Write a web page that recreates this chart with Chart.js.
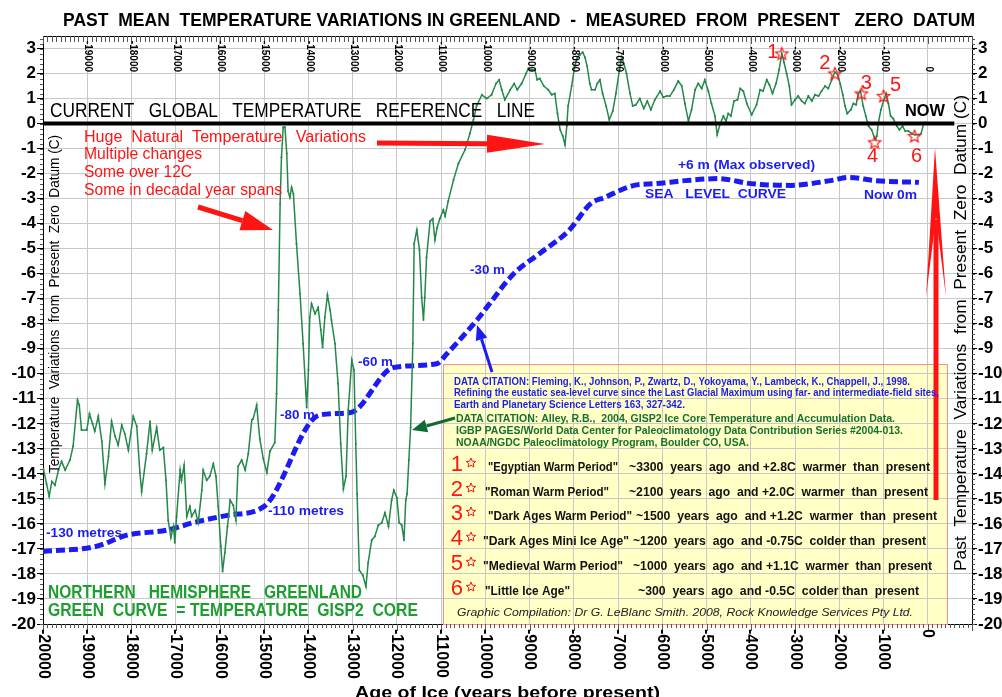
<!DOCTYPE html>
<html>
<head>
<meta charset="utf-8">
<script src="https://cdn.jsdelivr.net/npm/chart.js@4.4.1/dist/chart.umd.min.js"></script>
<style>
  html, body { margin: 0; padding: 0; background: #fff; }
  #wrap { width: 1002px; height: 697px; }
</style>
</head>
<body>
<div id="wrap"><canvas id="greenland" width="1002" height="697"></canvas></div>
<script>
// GISP2 temperature (years before present, deg C from present)
const tempYears = [
  -19990, -19920, -19860, -19800, -19730, -19650, -19580, -19500, -19390, -19320,
  -19220, -19180, -19130, -19010, -18950, -18880, -18830, -18750, -18670, -18600,
  -18520, -18450, -18370, -18300, -18220, -18150, -18070, -17960, -17880, -17810,
  -17770, -17660, -17580, -17530, -17430, -17360, -17280, -17220, -17170, -17110,
  -17050, -17020, -16980, -16900, -16870, -16810, -16750, -16680, -16640, -16560,
  -16490, -16410, -16380, -16300, -16230, -16150, -16090, -16040, -15980, -15940,
  -15890, -15830, -15770, -15700, -15640, -15590, -15510, -15430, -15360, -15280,
  -15250, -15170, -15100, -15020, -14940, -14870, -14760, -14720, -14680, -14640,
  -14610, -14570, -14530, -14490, -14460, -14420, -14380, -14340, -14270, -14190,
  -14120, -14040, -14000, -13970, -13930, -13850, -13780, -13720, -13680, -13630,
  -13570, -13510, -13480, -13400, -13330, -13270, -13210, -13150, -13100, -13020,
  -12970, -12930, -12900, -12850, -12770, -12700, -12650, -12570, -12500, -12420,
  -12340, -12270, -12190, -12120, -12070, -12000, -11950, -11890, -11840, -11800,
  -11770, -11730, -11690, -11640, -11610, -11550, -11490, -11440, -11400, -11370,
  -11330, -11250, -11190, -11140, -11090, -11030, -10950, -10910, -10840, -10720,
  -10610, -10460, -10350, -10270, -10200, -10080, -9970, -9860, -9760, -9690,
  -9630, -9560, -9440, -9350, -9280, -9180, -9080, -9030, -8950, -8880,
  -8830, -8770, -8680, -8580, -8500, -8430, -8370, -8310, -8250, -8200,
  -8160, -8130, -8050, -7980, -7920, -7860, -7800, -7750, -7700, -7640,
  -7600, -7520, -7470, -7410, -7350, -7270, -7200, -7120, -7050, -6970,
  -6920, -6870, -6810, -6730, -6670, -6600, -6510, -6420, -6340, -6260,
  -6170, -6050, -5980, -5900, -5830, -5740, -5640, -5560, -5490, -5410,
  -5340, -5260, -5190, -5110, -5040, -4960, -4890, -4810, -4760, -4700,
  -4620, -4560, -4510, -4450, -4380, -4300, -4240, -4170, -4090, -3980,
  -3870, -3790, -3720, -3640, -3580, -3510, -3430, -3360, -3300, -3250,
  -3190, -3130, -3080, -3000, -2930, -2850, -2780, -2700, -2620, -2550,
  -2470, -2400, -2320, -2250, -2170, -2100, -2050, -1980, -1920, -1870,
  -1820, -1740, -1680, -1620, -1570, -1520, -1460, -1400, -1340, -1270,
  -1190, -1150, -1120, -1060, -1000, -940, -890, -840, -780, -700,
  -640, -570, -510, -440, -360, -290, -210, -150, -100, -60
];
const tempValues = [
  -13.8, -14.4, -14.9, -14.3, -14.45, -13.85, -13.5, -13.85, -13.45, -12.9,
  -11.05, -11.25, -12.25, -12.25, -11.6, -12.0, -12.3, -11.7, -12.7, -14.4,
  -13.3, -11.9, -12.5, -12.85, -12.05, -12.4, -13.05, -11.7, -12.1, -13.95,
  -14.7, -13.2, -11.9, -13.05, -12.15, -13.05, -12.95, -14.25, -15.85, -16.55,
  -16.1, -16.75, -15.7, -13.85, -14.25, -13.65, -15.7, -15.3, -15.7, -15.45,
  -15.95, -14.65, -13.85, -14.25, -14.1, -13.6, -14.1, -15.3, -16.9, -17.9,
  -17.15, -16.1, -15.05, -15.25, -15.85, -13.7, -13.45, -13.85, -13.2, -11.85,
  -11.8, -11.25, -12.6, -13.4, -13.95, -13.1, -12.75, -10.8, -7.45, -3.2,
  -1.35, -0.15, -0.15, -1.2, -2.7, -2.95, -2.55, -2.8, -4.8, -6.8,
  -8.8, -11.35, -9.85, -7.75, -7.2, -7.6, -7.35, -8.25, -8.95, -7.75,
  -6.85, -7.45, -7.85, -8.8, -10.4, -12.8, -14.6, -14.1, -11.45, -9.45,
  -9.85, -12.8, -14.8, -17.85, -18.05, -18.5, -17.55, -16.65, -16.5, -16.05,
  -15.95, -15.55, -16.1, -15.05, -14.65, -14.95, -15.95, -16.05, -16.65, -15.05,
  -14.8, -13.45, -12.15, -8.8, -4.8, -4.25, -5.05, -6.95, -7.85, -6.95,
  -5.35, -3.9, -3.8, -4.65, -4.15, -3.8, -3.45, -3.7, -3.1, -2.25,
  -1.6, -1.05, -0.4, 0.15, 0.7, 1.15, 1.0, 1.15, 1.6, 1.75,
  1.35, 0.95, 1.35, 1.6, 1.35, 1.6, 2.0, 2.2, 2.15, 2.15,
  1.75, 1.8, 1.5, 1.35, 1.15, 1.2, 0.4, -0.25, -0.5, -0.85,
  -0.1, 0.7, 1.5, 2.3, 2.65, 2.75, 2.85, 2.65, 2.3, 1.6,
  1.35, 1.35, 1.6, 1.75, 1.2, 0.7, 0.15, 0.5, 1.2, 2.15,
  2.65, 2.4, 2.0, 1.2, 0.7, 0.75, 1.0, 0.6, 0.9, 0.55,
  0.95, 1.3, 1.05, 1.1, 1.1, 1.35, 1.7, 1.5, 0.8, 0.1,
  0.55, 1.35, 1.6, 1.4, 1.75, 1.3, 0.8, 0.3, -0.45, -0.05,
  0.3, 0.1, 0.4, 0.3, 0.9, 0.95, 1.4, 1.3, 0.8, 0.35,
  0.75, 1.35, 1.3, 1.75, 1.55, 1.2, 1.6, 2.15, 2.8, 2.45,
  2.0, 1.5, 0.75, 0.95, 1.1, 0.9, 0.8, 1.1, 0.9, 1.15,
  1.1, 1.3, 1.5, 1.4, 1.75, 2.05, 2.0, 1.6, 1.15, 0.7,
  0.4, 0.55, 0.8, 0.75, 1.2, 1.3, 0.7, 0.3, -0.1, -0.25,
  -0.65, -0.5, 0.0, 0.55, 0.9, 1.2, 0.8, 0.3, 0.2, -0.1,
  -0.25, -0.1, -0.3, -0.3, -0.4, -0.45, -0.45, -0.4, -0.05, 0.05
];

// sea level curve, drawn on the temperature scale like the original
const seaYears = [
  -20000, -18800, -18100, -17200, -16600, -15800, -15000, -13750, -13050, -12080,
  -11100, -10870, -10190, -9360, -8780, -8110, -7620, -7300, -6640, -6150,
  -5480, -4740, -4000, -3100, -2200, -1770, -1200, -200
];
const seaValues = [
  -17.1, -16.9, -16.45, -16.25, -15.95, -15.65, -15.3, -11.65, -11.55, -9.75,
  -9.6, -9.2, -7.85, -6.0, -5.2, -4.27, -3.2, -2.95, -2.47, -2.4,
  -2.28, -2.2, -2.4, -2.47, -2.28, -2.15, -2.28, -2.35
];

const refYears = [-20000, 600];
const refValues = [0, 0];

// numbered warm / cold periods
const starYears = [-3300, -2100, -1500, -1200, -1000, -300];
const starValues = [2.8, 2.0, 1.2, -0.75, 1.1, -0.5];
const starLabels = ['1', '2', '3', '4', '5', '6'];
const periodNames = [
  '"Egyptian Warm Period"', '"Roman Warm Period"', '"Dark Ages Warm Period"',
  '"Dark Ages Mini Ice Age"', '"Medieval Warm Period"', '"Little Ice Age"'
];
const periodNotes = [
  '~3300  years  ago  and +2.8C  warmer  than  present',
  '~2100  years  ago  and +2.0C  warmer  than  present',
  '~1500  years  ago  and +1.2C  warmer  than  present',
  '~1200  years  ago  and -0.75C  colder than  present',
  '~1000  years  ago  and +1.1C  warmer  than  present',
  '~300  years  ago  and -0.5C  colder than  present'
];

const topTickLabels = [-19000, -18000, -17000, -16000, -15000, -14000, -13000, -12000, -11000, -10000,
  -9000, -8000, -7000, -6000, -5000, -4000, -3000, -2000, -1000, 0];
const bottomTickLabels = [-20000, -19000, -18000, -17000, -16000, -15000, -14000, -13000, -12000, -11000,
  -10000, -9000, -8000, -7000, -6000, -5000, -4000, -3000, -2000, -1000, 0];

const FONT = '"Liberation Sans", Arial, sans-serif';
const RED = '#ff1414';
const BLUE = '#1c1cf0';

function toPoints(xs, ys) {
  return xs.map((x, i) => ({ x: x, y: ys[i] }));
}

function starPath(ctx, cx, cy, r) {
  ctx.beginPath();
  for (let i = 0; i < 10; i++) {
    const rr = i % 2 === 0 ? r : r * 0.45;
    const a = -Math.PI / 2 + i * Math.PI / 5;
    const px = cx + rr * Math.cos(a);
    const py = cy + rr * Math.sin(a);
    if (i === 0) ctx.moveTo(px, py); else ctx.lineTo(px, py);
  }
  ctx.closePath();
}

// small hollow star used as point style
const starImg = document.createElement('canvas');
starImg.width = 16;
starImg.height = 16;
(function () {
  const c = starImg.getContext('2d');
  c.strokeStyle = RED;
  c.lineWidth = 1.2;
  starPath(c, 8, 8.5, 6.5);
  c.stroke();
})();

// text squeezed / stretched to a width, like the original lettering
function fitText(ctx, text, x, y, w) {
  const m = ctx.measureText(text).width;
  ctx.save();
  ctx.translate(x, y);
  ctx.scale(w / m, 1);
  ctx.textAlign = 'left';
  ctx.fillText(text, 0, 0);
  ctx.restore();
}

function fitTextUp(ctx, text, cx, yBottom, len) {
  const m = ctx.measureText(text).width;
  ctx.save();
  ctx.translate(cx, yBottom);
  ctx.rotate(-Math.PI / 2);
  ctx.scale(len / m, 1);
  ctx.textAlign = 'left';
  ctx.textBaseline = 'middle';
  ctx.fillText(text, 0, 0);
  ctx.restore();
}

function arrow(ctx, x1, y1, x2, y2, color, width, headLen, headWidth) {
  const a = Math.atan2(y2 - y1, x2 - x1);
  const bx = x2 - headLen * Math.cos(a);
  const by = y2 - headLen * Math.sin(a);
  ctx.save();
  ctx.strokeStyle = color;
  ctx.fillStyle = color;
  ctx.lineWidth = width;
  ctx.beginPath();
  ctx.moveTo(x1, y1);
  ctx.lineTo(bx, by);
  ctx.stroke();
  ctx.beginPath();
  ctx.moveTo(x2, y2);
  ctx.lineTo(bx + headWidth / 2 * Math.sin(a), by - headWidth / 2 * Math.cos(a));
  ctx.lineTo(bx - headWidth / 2 * Math.sin(a), by + headWidth / 2 * Math.cos(a));
  ctx.closePath();
  ctx.fill();
  ctx.restore();
}

const box = { left: 443, right: 947, top: 364 };

const decorations = {
  id: 'decorations',
  beforeDraw(chart) {
    const ctx = chart.ctx;
    ctx.save();
    ctx.fillStyle = '#fff';
    ctx.fillRect(0, 0, chart.width, chart.height);
    ctx.fillStyle = '#ffffc6';
    ctx.fillRect(box.left, box.top, box.right - box.left, chart.chartArea.bottom - box.top);
    ctx.restore();
  },
  afterDatasetsDraw(chart) {
    const ctx = chart.ctx;
    const area = chart.chartArea;
    ctx.save();
    ctx.strokeStyle = '#ff8c8c';
    ctx.lineWidth = 1;
    ctx.strokeRect(box.left + 0.5, box.top + 0.5, box.right - box.left, area.bottom - box.top);
    ctx.restore();
  },
  afterDraw(chart) {
    const ctx = chart.ctx;
    const area = chart.chartArea;
    const xs = chart.scales.x;
    const ys = chart.scales.y;
    ctx.save();

    // top border + ruler ticks
    ctx.strokeStyle = '#000';
    ctx.lineWidth = 1;
    ctx.beginPath();
    ctx.moveTo(area.left, area.top + 0.5);
    ctx.lineTo(area.right, area.top + 0.5);
    ctx.stroke();
    ctx.strokeStyle = '#555';
    ctx.beginPath();
    for (let v = -20000; v <= 1000; v += 100) {
      const px = Math.round(xs.getPixelForValue(v)) + 0.5;
      const big = v % 1000 === 0;
      ctx.moveTo(px, area.top);
      ctx.lineTo(px, area.top + (big ? 8 : 6));
      ctx.moveTo(px, area.bottom);
      ctx.lineTo(px, area.bottom + (big ? 7 : 4));
    }
    // minor ticks on both temperature axes
    for (let v = -20; v <= 3.4; v += 0.2) {
      const py = Math.round(ys.getPixelForValue(v)) + 0.5;
      ctx.moveTo(area.left - 3, py);
      ctx.lineTo(area.left, py);
      ctx.moveTo(area.right, py);
      ctx.lineTo(area.right + 3, py);
    }
    ctx.stroke();

    // tick labels, turned a quarter clockwise
    ctx.fillStyle = '#000';
    ctx.textBaseline = 'middle';
    ctx.font = 'bold 10px ' + FONT;
    topTickLabels.forEach(v => {
      ctx.save();
      ctx.translate(xs.getPixelForValue(v) + 1, 72);
      ctx.rotate(Math.PI / 2);
      ctx.textAlign = 'right';
      ctx.fillText(String(v), 0, 0);
      ctx.restore();
    });
    ctx.font = 'bold 16px ' + FONT;
    bottomTickLabels.forEach(v => {
      ctx.save();
      ctx.translate(xs.getPixelForValue(v), area.bottom + 5);
      ctx.rotate(Math.PI / 2);
      ctx.textAlign = 'left';
      ctx.fillText(String(v), 0, 0);
      ctx.restore();
    });

    // title and axis titles
    ctx.font = 'bold 18px ' + FONT;
    fitText(ctx, 'PAST  MEAN  TEMPERATURE VARIATIONS IN GREENLAND  -  MEASURED  FROM  PRESENT   ZERO  DATUM', 63, 21, 912);
    ctx.font = 'bold 17px ' + FONT;
    ctx.textBaseline = 'alphabetic';
    fitText(ctx, 'Age of Ice (years before present)', 355, 698, 305);
    ctx.textBaseline = 'middle';
    ctx.font = '14px ' + FONT;
    fitTextUp(ctx, 'Temperature  Variations  from  Present  Zero  Datum (C)', 55, 473, 338);
    ctx.font = '17px ' + FONT;
    fitTextUp(ctx, 'Past  Temperature  Variations  from  Present  Zero  Datum (C)', 961, 571, 476);

    // reference line caption
    ctx.font = '20px ' + FONT;
    fitText(ctx, 'CURRENT   GLOBAL   TEMPERATURE   REFERENCE   LINE', 50, 111, 485);
    ctx.font = 'bold 16px ' + FONT;
    fitText(ctx, 'NOW', 905, 112, 40);

    // red notes and arrows
    ctx.fillStyle = RED;
    ctx.font = '16px ' + FONT;
    fitText(ctx, 'Huge  Natural  Temperature   Variations', 84, 138, 282);
    fitText(ctx, 'Multiple changes', 84, 155, 118);
    fitText(ctx, 'Some over 12C', 84, 173, 108);
    fitText(ctx, 'Some in decadal year spans', 84, 191, 198);
    arrow(ctx, 377, 143, 545, 144, RED, 5, 58, 18);
    arrow(ctx, 198, 207, 273, 230, RED, 5, 32, 20);
    ctx.strokeStyle = RED;
    ctx.lineWidth = 5;
    ctx.beginPath();
    ctx.moveTo(936, 500);
    ctx.lineTo(936, 220);
    ctx.stroke();
    ctx.beginPath();
    ctx.moveTo(935, 148);
    ctx.lineTo(946, 297);
    ctx.lineTo(936, 217);
    ctx.lineTo(926, 297);
    ctx.closePath();
    ctx.fill();

    // star numbers along the curve
    const starMeta = chart.getDatasetMeta(0).data;
    const offs = [[-9, -1], [-10, -10], [5, -10], [-2, 14], [12, -11], [2, 20]];
    ctx.font = '20px ' + FONT;
    ctx.textAlign = 'center';
    starMeta.forEach((pt, i) => {
      ctx.fillText(starLabels[i], pt.x + offs[i][0], pt.y + offs[i][1]);
    });
    ctx.textAlign = 'left';

    // sea level captions
    ctx.fillStyle = BLUE;
    ctx.font = 'bold 13px ' + FONT;
    fitText(ctx, '+6 m (Max observed)', 678, 165, 137);
    fitText(ctx, 'SEA   LEVEL  CURVE', 645, 194, 141);
    fitText(ctx, 'Now 0m', 864, 195, 53);
    fitText(ctx, '-30 m', 470, 270, 35);
    fitText(ctx, '-60 m', 358, 362, 35);
    fitText(ctx, '-80 m', 280, 415, 35);
    fitText(ctx, '-110 metres', 268, 511, 76);
    fitText(ctx, '-130 metres', 46, 533, 76);
    arrow(ctx, 492, 372, 477, 325, BLUE, 3, 15, 12);

    // green captions
    ctx.fillStyle = '#1c9e30';
    ctx.font = 'bold 18px ' + FONT;
    fitText(ctx, 'NORTHERN   HEMISPHERE   GREENLAND', 48, 593, 314);
    fitText(ctx, 'GREEN  CURVE  = TEMPERATURE  GISP2  CORE', 48, 611, 370);
    arrow(ctx, 455, 418, 412, 430, '#0e6b34', 3, 15, 13);

    // citation box
    ctx.font = 'bold 10px ' + FONT;
    ctx.fillStyle = BLUE;
    fitText(ctx, 'DATA CITATION: Fleming, K., Johnson, P., Zwartz, D., Yokoyama, Y., Lambeck, K., Chappell, J., 1998.', 454, 382, 456);
    fitText(ctx, 'Refining the eustatic sea-level curve since the Last Glacial Maximum using far- and intermediate-field sites,', 454, 393, 485);
    fitText(ctx, 'Earth and Planetary Science Letters 163, 327-342.', 454, 405, 231);
    ctx.fillStyle = '#17702f';
    fitText(ctx, 'DATA CITATION: Alley, R.B.,  2004, GISP2 Ice Core Temperature and Accumulation Data.', 456, 419, 439);
    fitText(ctx, 'IGBP PAGES/World Data Center for Paleoclimatology Data Contribution Series #2004-013.', 456, 431, 447);
    fitText(ctx, 'NOAA/NGDC Paleoclimatology Program, Boulder CO, USA.', 456, 443, 293);

    const rowY = [466, 491, 515, 540, 565, 590];
    const nameX = [[488, 618], [485, 609], [488, 632], [483, 629], [483, 623], [485, 570]];
    const noteX = [[629, 930], [629, 928], [636, 937], [633, 926], [633, 932], [638, 919]];
    rowY.forEach((y, i) => {
      ctx.fillStyle = RED;
      ctx.font = '22px ' + FONT;
      ctx.textAlign = 'right';
      ctx.fillText(starLabels[i], 463, y - 1);
      ctx.textAlign = 'left';
      ctx.strokeStyle = RED;
      ctx.lineWidth = 1;
      starPath(ctx, 471, y - 3, 5);
      ctx.stroke();
      ctx.fillStyle = '#111';
      ctx.font = 'bold 12px ' + FONT;
      fitText(ctx, periodNames[i], nameX[i][0], y + 2, nameX[i][1] - nameX[i][0]);
      fitText(ctx, periodNotes[i], noteX[i][0], y + 2, noteX[i][1] - noteX[i][0]);
    });
    ctx.fillStyle = '#222';
    ctx.font = 'italic 11px ' + FONT;
    fitText(ctx, 'Graphic Compilation: Dr G. LeBlanc Smith. 2008, Rock Knowledge Services Pty Ltd.', 457, 613, 456);

    ctx.restore();
  }
};

Chart.defaults.font.family = FONT;

new Chart(document.getElementById('greenland'), {
  type: 'line',
  data: {
    datasets: [
      {
        label: 'periods',
        data: toPoints(starYears, starValues),
        showLine: false,
        pointStyle: starImg,
        pointRadius: 7
      },
      {
        label: 'reference line',
        data: toPoints(refYears, refValues),
        borderColor: '#000',
        borderWidth: 4,
        pointRadius: 0
      },
      {
        label: 'temperature',
        data: toPoints(tempYears, tempValues),
        borderColor: '#24884b',
        borderWidth: 1.5,
        pointRadius: 1,
        pointBorderWidth: 0,
        pointBackgroundColor: '#24884b'
      },
      {
        label: 'sea level',
        data: toPoints(seaYears, seaValues),
        borderColor: BLUE,
        borderWidth: 5,
        borderDash: [9, 4],
        pointRadius: 0,
        cubicInterpolationMode: 'monotone'
      }
    ]
  },
  options: {
    responsive: false,
    animation: false,
    devicePixelRatio: 1,
    layout: { padding: { top: 36 } },
    plugins: {
      legend: { display: false },
      title: { display: false },
      tooltip: { enabled: false }
    },
    scales: {
      x: {
        type: 'linear',
        min: -20000,
        max: 1000,
        ticks: { display: false, stepSize: 1000 },
        grid: { color: '#c8c8c8', drawTicks: false },
        border: { color: '#000' },
        afterFit(scale) { scale.height = 73; }
      },
      y: {
        position: 'left',
        min: -20,
        max: 3.5,
        ticks: {
          stepSize: 1,
          includeBounds: false,
          color: '#000',
          padding: 1,
          font: { size: 17, weight: 'bold' }
        },
        grid: { color: '#c8c8c8', tickColor: '#000', tickLength: 6 },
        border: { color: '#000' },
        afterFit(scale) { scale.width = 43; }
      },
      y2: {
        position: 'right',
        min: -20,
        max: 3.5,
        ticks: {
          stepSize: 1,
          includeBounds: false,
          color: '#000',
          padding: 1,
          font: { size: 17, weight: 'bold' }
        },
        grid: { drawOnChartArea: false, tickColor: '#000', tickLength: 5 },
        border: { color: '#000' },
        afterFit(scale) { scale.width = 30; }
      }
    }
  },
  plugins: [decorations]
});
</script>
</body>
</html>
